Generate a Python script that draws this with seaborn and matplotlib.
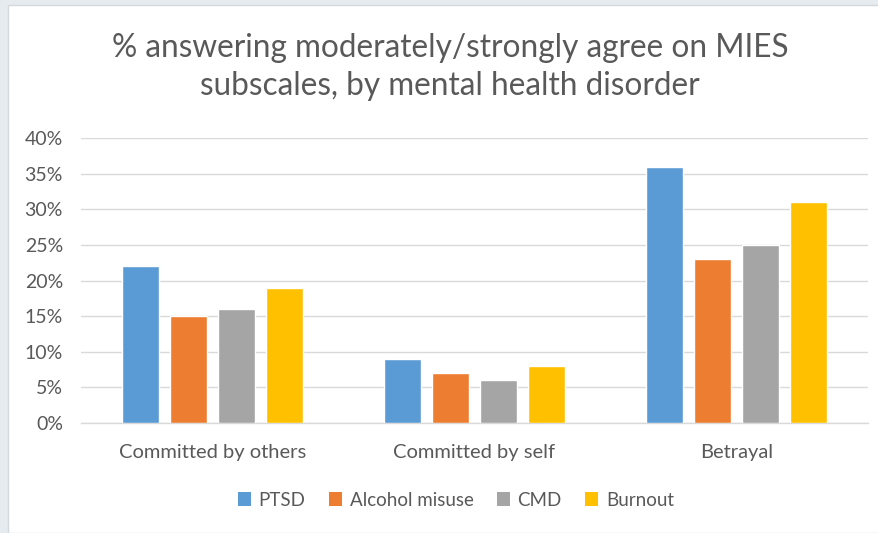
import matplotlib
matplotlib.use("Agg")
import matplotlib.pyplot as plt
from matplotlib.patches import Rectangle
from matplotlib.ticker import FuncFormatter, MultipleLocator
import seaborn as sns
import pandas as pd

# Survey results: share answering moderately/strongly agree, per MIES subscale
categories = ["Committed by others", "Committed by self", "Betrayal"]
disorders = ["PTSD", "Alcohol misuse", "CMD", "Burnout"]
ptsd = [0.22, 0.09, 0.36]
alcohol_misuse = [0.15, 0.07, 0.23]
cmd = [0.16, 0.06, 0.25]
burnout = [0.19, 0.08, 0.31]
colors = ["#5B9BD5", "#ED7D31", "#A5A5A5", "#FFC000"]

series = [ptsd, alcohol_misuse, cmd, burnout]
df = pd.DataFrame({
    "subscale": [c for _ in disorders for c in categories],
    "disorder": [d for d in disorders for _ in categories],
    "share": [v for s in series for v in s],
})

sns.set_theme(style="white")
plt.rcParams["font.family"] = ["Lato", "DejaVu Sans"]
text_gray = "#595959"
grid_gray = "#D9D9D9"

fig = plt.figure(figsize=(8.79, 5.33), dpi=100)
fig.patch.set_facecolor("#E6EBEF")
# white chart area with a thin border
fig.add_artist(Rectangle((8 / 879, 0), 1 - 8 / 879, 1 - 5 / 533,
                         transform=fig.transFigure, facecolor="white",
                         edgecolor="#D3D8DD", linewidth=1.0, zorder=0))

ax = fig.add_axes([81 / 879, 1 - 423 / 533, (868 - 81) / 879, (423 - 138) / 533])
ax.set_facecolor("none")

sns.barplot(data=df, x="subscale", y="share", hue="disorder",
            order=categories, hue_order=disorders, palette=colors,
            width=0.733, gap=0.23, saturation=1, ax=ax, legend=False,
            errorbar=None, zorder=3)

ax.set_ylim(0, 0.40)
ax.yaxis.set_major_locator(MultipleLocator(0.05))
ax.yaxis.set_major_formatter(FuncFormatter(lambda v, _: f"{v * 100:.0f}%"))
ax.grid(axis="y", color=grid_gray, linewidth=1.0, zorder=0)
ax.set_axisbelow(True)
for side in ["left", "right", "top"]:
    ax.spines[side].set_visible(False)
ax.spines["bottom"].set_color(grid_gray)
ax.spines["bottom"].set_linewidth(1.0)
ax.set_xlabel("")
ax.set_ylabel("")
ax.tick_params(axis="y", length=0, pad=13, labelsize=14, labelcolor=text_gray)
ax.tick_params(axis="x", length=0, pad=15, labelsize=14.5, labelcolor=text_gray)

fig.text(0.512, 1 - 48 / 533, "% answering moderately/strongly agree on MIES",
         ha="center", va="center", fontsize=22.7, color=text_gray)
fig.text(0.512, 1 - 86 / 533, "subscales, by mental health disorder",
         ha="center", va="center", fontsize=22.7, color=text_gray)

handles = [Rectangle((0, 0), 1, 1, facecolor=c, edgecolor="none") for c in colors]
fig.legend(handles, disorders, loc="center", bbox_to_anchor=(456 / 879, 1 - 500 / 533),
           ncol=4, frameon=False, fontsize=13.5, labelcolor=text_gray,
           handlelength=0.7, handleheight=0.7, handletextpad=0.4, columnspacing=1.25)

fig.savefig("out.png", dpi=100, facecolor=fig.get_facecolor())
